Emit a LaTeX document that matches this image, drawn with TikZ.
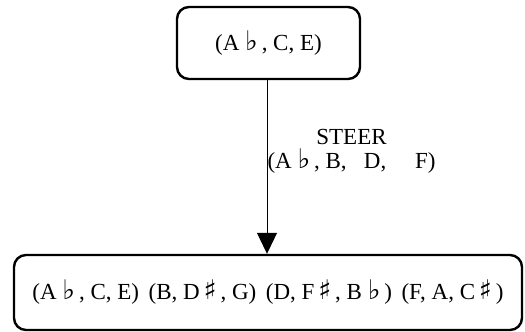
\documentclass[tikz,border=0pt]{standalone}
\usepackage{fontspec}
\setmainfont{Liberation Serif}
\newfontfamily\sym{DejaVu Sans}
\usetikzlibrary{arrows.meta}
\newcommand{\fl}{\ {\sym\fontsize{27}{27}\selectfont ♭}\,}
\newcommand{\sh}{\,{\sym\fontsize{27}{27}\selectfont ♯}\,}
\begin{document}
\begin{tikzpicture}[x=1pt,y=-1pt,
  chord/.style={draw, line width=2.4pt, rounded corners=12pt, inner sep=0pt},
  every node/.style={font=\fontsize{23}{26}\selectfont}]
\useasboundingbox (0,0) rectangle (525,332);
\node[chord, minimum width=183pt, minimum height=72pt] (start) at (268.5,43) {(A\fl, C, E)};
\node[chord, minimum width=508pt, minimum height=75pt] (result) at (268,292.5) {(A\fl, C, E) \,(B, D\sh, G) \,(D, F\sh, B\fl) \,(F, A, C\sh)};
\draw [-{Triangle[width=20pt,length=21pt]}, line width=1pt] (start.south -| 267,0) -- (result.north -| 267,0)
  node[pos=0.41, anchor=west, inner sep=0pt, align=center] (steer) {STEER\\[-2pt](A\fl, B,\ \ \ D,\ \ \ \ \ F)};
\end{tikzpicture}
\end{document}
